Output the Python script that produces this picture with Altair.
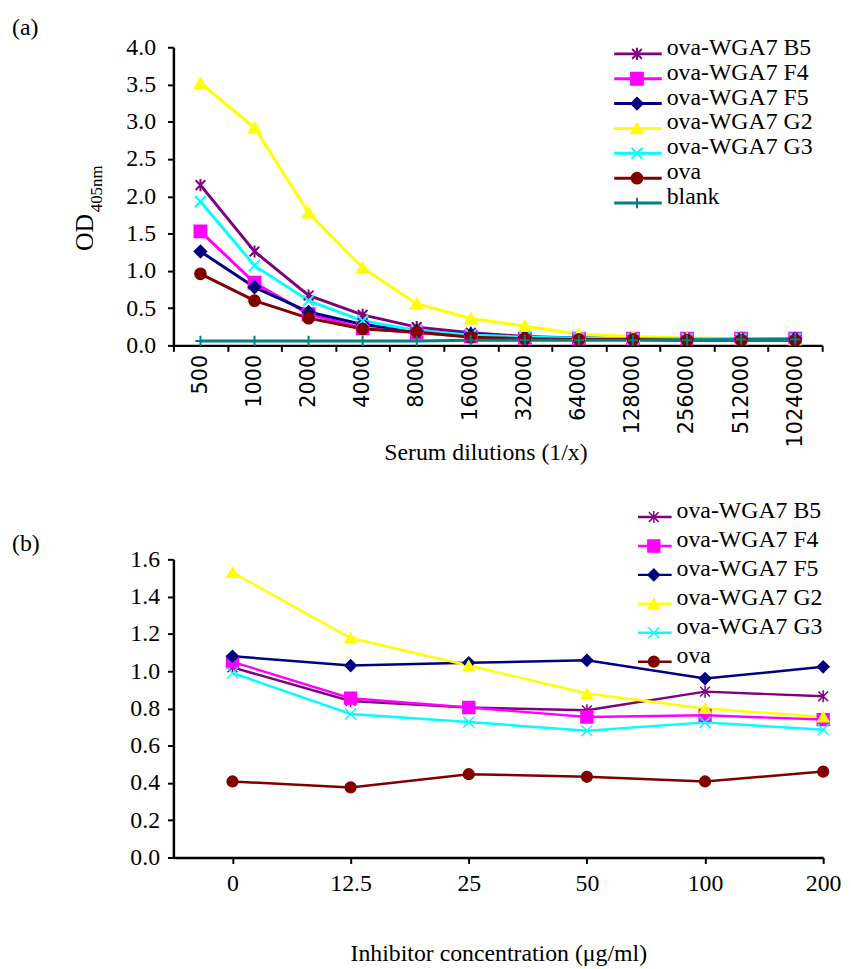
import altair as alt
import pandas as pd

# ---------------- data: panel (a) ----------------
dilutions = ["500", "1000", "2000", "4000", "8000", "16000", "32000",
             "64000", "128000", "256000", "512000", "1024000"]
series_a = ["ova-WGA7 B5", "ova-WGA7 F4", "ova-WGA7 F5", "ova-WGA7 G2",
            "ova-WGA7 G3", "ova", "blank"]
b5_a = [2.15, 1.26, 0.67, 0.41, 0.245, 0.17, 0.12, 0.10, 0.09, 0.09, 0.09, 0.09]
f4_a = [1.53, 0.84, 0.42, 0.23, 0.17, 0.12, 0.10, 0.09, 0.09, 0.09, 0.09, 0.09]
f5_a = [1.26, 0.78, 0.45, 0.28, 0.19, 0.15, 0.11, 0.10, 0.09, 0.09, 0.09, 0.09]
g2_a = [3.52, 2.92, 1.78, 1.04, 0.56, 0.36, 0.26, 0.15, 0.12, 0.10, 0.09, 0.08]
g3_a = [1.93, 1.07, 0.60, 0.33, 0.20, 0.14, 0.11, 0.10, 0.09, 0.09, 0.09, 0.09]
ova_a = [0.96, 0.60, 0.365, 0.22, 0.18, 0.11, 0.09, 0.08, 0.08, 0.07, 0.07, 0.07]
blank_a = [0.06, 0.06, 0.06, 0.06, 0.06, 0.07, 0.07, 0.07, 0.07, 0.07, 0.08, 0.08]

# ---------------- data: panel (b) ----------------
concs = ["0", "12.5", "25", "50", "100", "200"]
series_b = ["ova-WGA7 B5", "ova-WGA7 F4", "ova-WGA7 F5", "ova-WGA7 G2",
            "ova-WGA7 G3", "ova"]
b5_b = [1.02, 0.84, 0.805, 0.79, 0.89, 0.865]
f4_b = [1.05, 0.855, 0.805, 0.754, 0.763, 0.74]
f5_b = [1.08, 1.03, 1.045, 1.058, 0.96, 1.023]
g2_b = [1.53, 1.178, 1.03, 0.88, 0.80, 0.754]
g3_b = [0.99, 0.77, 0.727, 0.68, 0.725, 0.686]
ova_b = [0.408, 0.376, 0.447, 0.433, 0.408, 0.461]

# ---------------- styles ----------------
colors = ["#800080", "#FF00FF", "#000080", "#FFFF00", "#00FFFF", "#800000", "#008080"]
STAR = "M0,-1L0,1M-0.8,-0.8L0.8,0.8M-0.8,0.8L0.8,-0.8"
XMARK = "M-1,-1L1,1M-1,1L1,-1"
PLUS = "M-1,0L1,0M0,-1L0,1"
shapes = [STAR, "square", "diamond", "triangle-up", XMARK, "circle", PLUS]
sizes_a = [150, 110, 120, 200, 130, 110, 160]
sizes_b = [70, 60, 60, 90, 70, 55, 70]
SERIF = "Liberation Serif"
FS = 24

vals_a = [b5_a, f4_a, f5_a, g2_a, g3_a, ova_a, blank_a]
df_a = pd.DataFrame([
    {"dilution": d, "series": s, "value": v}
    for s, vs in zip(series_a, vals_a) for d, v in zip(dilutions, vs)
])
vals_b = [b5_b, f4_b, f5_b, g2_b, g3_b, ova_b]
df_b = pd.DataFrame([
    {"idx": i, "series": s, "value": v}
    for s, vs in zip(series_b, vals_b) for i, v in enumerate(vs)
])

# ================= panel (a) =================
WA, HA = 655, 301
col_a = alt.Scale(domain=series_a, range=colors)
shp_a = alt.Scale(domain=series_a, range=shapes)
siz_a = alt.Scale(domain=series_a, range=sizes_a)

x_a = alt.X("dilution:N", sort=dilutions,
            scale=alt.Scale(type="band", paddingInner=0, paddingOuter=0),
            axis=alt.Axis(title="Serum dilutions (1/x)", tickBand="extent",
                          labelAngle=270, labelFont="DejaVu Sans", labelFontSize=21,
                          labelPadding=3, tickSize=6, labelOverlap=False,
                          titleFont=SERIF, titleFontSize=FS, titleFontWeight="normal",
                          titleX=315, titleY=108, titleBaseline="middle"))
y_a = alt.Y("value:Q", scale=alt.Scale(domain=[0, 4], nice=False),
            axis=alt.Axis(title=None, values=[0, 0.5, 1, 1.5, 2, 2.5, 3, 3.5, 4],
                          format=".1f", labelFont=SERIF, labelFontSize=FS,
                          labelPadding=12, tickSize=6, grid=False))

lines_a = alt.Chart(df_a).mark_line(strokeWidth=3).encode(
    x=x_a, y=y_a,
    color=alt.Color("series:N", scale=col_a, legend=None),
)
pts_a = alt.Chart(df_a).mark_point(filled=True, opacity=1, strokeWidth=2).encode(
    x=x_a, y=y_a,
    color=alt.Color("series:N", scale=col_a, legend=None),
    stroke=alt.Stroke("series:N", scale=col_a, legend=None),
    shape=alt.Shape("series:N", scale=shp_a, legend=None),
    size=alt.Size("series:N", scale=siz_a, legend=None),
)
data_a = alt.layer(lines_a, pts_a)

leg_df_a = pd.DataFrame({"series": series_a, "row": list(range(len(series_a)))})
leg_y_a = alt.Y("row:Q", scale=alt.Scale(domain=[0, 6], range=[6.7, 157.3]), axis=None)
leg_rule_a = alt.Chart(leg_df_a).mark_rule(strokeWidth=3).encode(
    x=alt.value(445), x2=alt.value(493), y=leg_y_a,
    color=alt.Color("series:N", scale=col_a, legend=None))
leg_pts_a = alt.Chart(leg_df_a).mark_point(filled=True, opacity=1, strokeWidth=2).encode(
    x=alt.value(468), y=leg_y_a,
    color=alt.Color("series:N", scale=col_a, legend=None),
    stroke=alt.Stroke("series:N", scale=col_a, legend=None),
    shape=alt.Shape("series:N", scale=shp_a, legend=None),
    size=alt.Size("series:N", scale=siz_a, legend=None))
leg_txt_a = alt.Chart(leg_df_a).mark_text(
    align="left", baseline="middle", dy=-6, font=SERIF, fontSize=FS, color="black"
).encode(x=alt.value(498), y=leg_y_a, text="series:N")

lab_a = alt.Chart(pd.DataFrame({"t": ["(a)"]})).mark_text(
    align="left", baseline="middle", font=SERIF, fontSize=FS, color="black"
).encode(x=alt.value(-163), y=alt.value(-19), text="t:N")
od_a = alt.Chart(pd.DataFrame({"t": ["OD"]})).mark_text(
    align="center", baseline="middle", angle=270, font=SERIF, fontSize=26, color="black"
).encode(x=alt.value(-89), y=alt.value(187), text="t:N")
sub_a = alt.Chart(pd.DataFrame({"t": ["405nm"]})).mark_text(
    align="center", baseline="middle", angle=270, font=SERIF, fontSize=17, color="black"
).encode(x=alt.value(-77), y=alt.value(143), text="t:N")

legend_a = alt.layer(leg_rule_a, leg_pts_a, leg_txt_a, lab_a, od_a, sub_a)
chart_a = alt.layer(data_a, legend_a).resolve_scale(y="independent").properties(
    width=WA, height=HA)

# ================= panel (b) =================
WB, HB = 656, 301
col_b = alt.Scale(domain=series_b, range=colors[:6])
shp_b = alt.Scale(domain=series_b, range=shapes[:6])
siz_b = alt.Scale(domain=series_b, range=sizes_b)
label_expr = "[" + ",".join("'%s'" % c for c in concs) + "][datum.value]"

x_b = alt.X("idx:Q", scale=alt.Scale(domain=[-0.5, 5], nice=False, zero=False),
            axis=alt.Axis(title="Inhibitor concentration (\u03bcg/ml)",
                          values=list(range(len(concs))), labelExpr=label_expr,
                          labelFont=SERIF, labelFontSize=FS, labelPadding=8,
                          labelFlush=False, labelOverlap=False, tickSize=6, grid=False,
                          titleFont=SERIF, titleFontSize=FS, titleFontWeight="normal",
                          titleY=97, titleBaseline="middle"))
y_b = alt.Y("value:Q", scale=alt.Scale(domain=[0, 1.6], nice=False),
            axis=alt.Axis(title=None,
                          values=[0, 0.2, 0.4, 0.6, 0.8, 1.0, 1.2, 1.4, 1.6],
                          format=".1f", labelFont=SERIF, labelFontSize=FS,
                          labelPadding=8, tickSize=6, grid=False))

lines_b = alt.Chart(df_b).mark_line(strokeWidth=2.5).encode(
    x=x_b, y=y_b, color=alt.Color("series:N", scale=col_b, legend=None))
pts_b = alt.Chart(df_b).mark_point(filled=True, opacity=1, strokeWidth=1.5).encode(
    x=x_b, y=y_b,
    color=alt.Color("series:N", scale=col_b, legend=None),
    stroke=alt.Stroke("series:N", scale=col_b, legend=None),
    shape=alt.Shape("series:N", scale=shp_b, legend=None),
    size=alt.Size("series:N", scale=siz_b, legend=None))
data_b = alt.layer(lines_b, pts_b)

leg_df_b = pd.DataFrame({"series": series_b, "row": list(range(len(series_b)))})
leg_y_b = alt.Y("row:Q", scale=alt.Scale(domain=[0, 5], range=[-42.7, 103.3]), axis=None)
leg_rule_b = alt.Chart(leg_df_b).mark_rule(strokeWidth=2.5).encode(
    x=alt.value(469), x2=alt.value(503), y=leg_y_b,
    color=alt.Color("series:N", scale=col_b, legend=None))
leg_pts_b = alt.Chart(leg_df_b).mark_point(filled=True, opacity=1, strokeWidth=1.5).encode(
    x=alt.value(485), y=leg_y_b,
    color=alt.Color("series:N", scale=col_b, legend=None),
    stroke=alt.Stroke("series:N", scale=col_b, legend=None),
    shape=alt.Shape("series:N", scale=shp_b, legend=None),
    size=alt.Size("series:N", scale=siz_b, legend=None))
leg_txt_b = alt.Chart(leg_df_b).mark_text(
    align="left", baseline="middle", dy=-6, font=SERIF, fontSize=FS, color="black"
).encode(x=alt.value(508), y=leg_y_b, text="series:N")
lab_b = alt.Chart(pd.DataFrame({"t": ["(b)"]})).mark_text(
    align="left", baseline="middle", font=SERIF, fontSize=FS, color="black"
).encode(x=alt.value(-163), y=alt.value(-15), text="t:N")

legend_b = alt.layer(leg_rule_b, leg_pts_b, leg_txt_b, lab_b)
chart_b = alt.layer(data_b, legend_b).resolve_scale(y="independent").properties(
    width=WB, height=HB)

chart = alt.vconcat(chart_a, chart_b, spacing=35).properties(
    padding={"left": 4, "top": 4, "right": 2, "bottom": 2}
).configure_view(stroke=None).configure_axis(
    domainColor="black", domainWidth=2.5, tickColor="black", tickWidth=2,
    labelColor="black", titleColor="black", grid=False
)

chart.save("out.html", embed_options={"renderer": "svg", "actions": False})
